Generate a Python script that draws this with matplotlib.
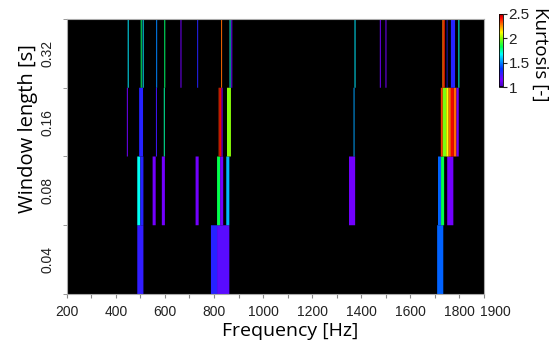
import numpy as np
import matplotlib
matplotlib.use("Agg")
import matplotlib.pyplot as plt
from matplotlib.colors import LinearSegmentedColormap, Normalize
from matplotlib.cm import ScalarMappable

plt.rcParams['font.family'] = ['Open Sans', 'DejaVu Sans']
TICK_FONT = ['Liberation Sans', 'DejaVu Sans']

# window lengths (rows, bottom to top)
window_labels = ['0.04', '0.08', '0.16', '0.32']

# each row: band start [Hz], band end [Hz], kurtosis [-]
lo_004 = [487.5, 787.5, 812.5, 1709]
hi_004 = [512.5, 812.5, 862.5, 1734]
k_004 = [1.28, 1.3, 1.2, 1.45]

lo_008 = [487.5, 500, 550, 587.5, 725, 812.5, 825, 850, 1350, 1712.5, 1725, 1750]
hi_008 = [500, 512.5, 562.5, 600, 737.5, 825, 837.5, 862.5, 1375, 1725, 1737.5, 1775]
k_008 = [1.68, 1.3, 1.15, 1.15, 1.15, 1.83, 1.15, 1.58, 1.15, 1.45, 1.83, 1.15]

lo_016 = [445, 495, 563.5, 595.5, 819, 823, 831, 853, 1368.5,
          1724, 1732, 1746, 1756, 1765, 1777, 1788]
hi_016 = [449, 511, 567.5, 599.5, 823, 831, 835, 869, 1372.5,
          1732, 1746, 1756, 1765, 1777, 1788, 1797]
k_016 = [1.15, 1.3, 1.25, 1.75, 2.35, 2.43, 1.15, 2.0, 1.55,
         2.35, 1.98, 2.12, 2.3, 2.43, 2.3, 1.15]

lo_032 = [448.5, 501.5, 509.5, 564.5, 597.5, 663.5, 731.5, 829, 863.5, 870.5, 1372.5,
          1475.5, 1498.5, 1730, 1736, 1748, 1765, 1795.5]
hi_032 = [452.5, 505.5, 513.5, 568.5, 601.5, 667.5, 735.5, 833, 867.5, 874.5, 1376.5,
          1479.5, 1502.5, 1736, 1740, 1751, 1782, 1799.5]
k_032 = [1.65, 1.8, 1.65, 1.5, 1.8, 1.15, 1.3, 2.3, 1.7, 1.15, 1.65,
         1.15, 1.15, 2.3, 2.4, 1.3, 1.3, 1.7]

rows = [(lo_004, hi_004, k_004), (lo_008, hi_008, k_008),
        (lo_016, hi_016, k_016), (lo_032, hi_032, k_032)]

# black -> violet -> blue -> cyan -> green -> yellow -> red
cmap = LinearSegmentedColormap.from_list('kurt', [
    (0.0, (0, 0, 0)), (0.02, (0.3, 0, 0.8)), (0.1, (0.45, 0, 1)),
    (0.25, (0.0, 0.2, 1)), (0.38, (0.0, 0.7, 1)), (0.45, (0, 1, 1)),
    (0.55, (0, 1, 0.3)), (0.68, (0.6, 1, 0)), (0.75, (1, 1, 0)),
    (0.85, (1, 0.5, 0)), (0.95, (1, 0, 0)), (1.0, (0.6, 0, 0))])
norm = Normalize(vmin=1, vmax=2.5)

fig = plt.figure(figsize=(5.54, 3.42), dpi=100)
ax = fig.add_axes([0.1204, 0.1404, 0.7533, 0.804])
ax.set_facecolor('black')

for i, (lo, hi, k) in enumerate(rows):
    lo = np.array(lo)
    hi = np.array(hi)
    bars = ax.bar(lo, 1, width=hi - lo, bottom=i, align='edge',
                  color=cmap(norm(np.array(k))), linewidth=0)
    for b in bars:
        b.set_snap(False)

ax.set_xlim(200, 1900)
ax.set_ylim(0, 4)
xt = np.arange(200, 1901, 100)
ax.set_xticks(xt)
ax.set_xticklabels([str(v) if v % 200 == 0 else '' for v in xt],
                   family=TICK_FONT, fontsize=10)
# the 1900 label sits a little right of its tick, as in the original
ax.annotate('1900', xy=(1900, 0), xycoords=('data', 'axes fraction'),
            xytext=(8, -8), textcoords='offset points', ha='center', va='top',
            family=TICK_FONT, fontsize=10, color='#222222')
ax.set_yticks(np.arange(4) + 0.5)
ax.set_yticklabels(window_labels, rotation=90, va='center',
                   family=TICK_FONT, fontsize=10)
ax.set_yticks(np.arange(5), minor=True)
ax.tick_params(axis='y', which='major', length=0, pad=9, colors='#222222')
ax.tick_params(axis='y', which='minor', length=3, color='#888888')
ax.tick_params(axis='x', length=3, color='#888888', labelcolor='#222222', pad=5)
for s in ax.spines.values():
    s.set_color('#aaaaaa')
    s.set_linewidth(0.8)
ax.set_xlabel('Frequency [Hz]', fontsize=14)
ax.xaxis.set_label_coords(0.535, -0.103)
ax.set_ylabel('Window length [s]', fontsize=14.5)
ax.yaxis.set_label_coords(-0.068, 0.6)

cax = fig.add_axes([0.9007, 0.7456, 0.0072, 0.2135])
cb = fig.colorbar(ScalarMappable(norm=norm, cmap=cmap), cax=cax)
cb.set_ticks([1, 1.5, 2, 2.5])
cb.set_ticklabels(['1', '1.5', '2', '2.5'])
for t in cb.ax.get_yticklabels():
    t.set_family(TICK_FONT)
    t.set_fontsize(11)
cb.ax.tick_params(length=3, pad=1, colors='#222222')
cb.outline.set_linewidth(0.6)
fig.text(0.975, 0.84, 'Kurtosis [-]', rotation=270, fontsize=13.5,
         ha='center', va='center')

fig.savefig('out.png', dpi=100)
